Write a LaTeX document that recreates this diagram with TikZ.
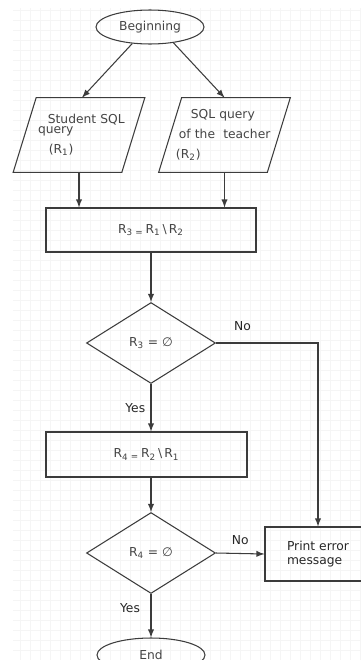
\documentclass[tikz,border=0pt]{standalone}
\usepackage{fontspec}
\setmainfont{DejaVu Sans}
\usetikzlibrary{shapes.geometric}

\definecolor{linegray}{HTML}{3C3C3C}
\definecolor{textgray}{HTML}{444444}

\tikzset{
  flow/.style={draw=linegray, line width=0.6pt},
  terminal/.style={flow, ellipse, minimum width=2.16cm, minimum height=0.68cm, inner sep=0pt, text=textgray},
  io/.style={minimum height=1.48cm, text width=2.16cm, inner sep=0pt, align=left, text=textgray},
  stmt/.style={flow, rectangle, minimum height=0.88cm, inner sep=0pt, text=textgray},
  test/.style={flow, diamond, minimum width=2.58cm, minimum height=1.62cm, inner sep=0pt, text=textgray},
  arr/.style={draw=linegray, line width=0.6pt, -latex},
  lbl/.style={inner sep=0pt, text=black!85},
  gridline/.style={draw=black!4, line width=0.3pt},
}

% slanted outline round an io node
\newcommand\slantbox[1]{%
  \draw[flow] ([xshift=0.23cm]#1.north west) -- ([xshift=0.23cm]#1.north east)
    -- ([xshift=-0.23cm]#1.south east) -- ([xshift=-0.23cm]#1.south west) -- cycle;}

\begin{document}
\begin{tikzpicture}[x=0.02cm, y=-0.02cm, font=\fontsize{7}{8.4}\selectfont]
        %% paper
        \fill[white] (0,0) rectangle (361,660);
        \useasboundingbox (0,0) rectangle (361,660);
        \begin{scope}
          \clip (13,8) rectangle (361,660);
          \draw[gridline] (13,8) grid[step=0.2cm] (361,660);
        \end{scope}
        %% start and inputs
        \node[terminal] (begin) at (150,27) {Beginning};
        \node[io] (q1) at (79,135) {\hspace*{13pt}Student SQL\\[-2.5pt]\hspace*{7.4pt}query\\[3pt]\hspace*{13.6pt}(R\textsubscript{1})};
        \slantbox{q1}
        \node[io] (q2) at (224.5,135) {\hspace*{11.6pt}SQL query\\[3pt]\hspace*{4.8pt}of the\ \ teacher\\[3pt]\hspace*{3.1pt}(R\textsubscript{2})};
        \slantbox{q2}
        %% differences and tests
        \node[stmt, minimum width=4.2cm] (r3) at (151,230) {R\textsubscript{3}\,\textsubscript{=}\,R\textsubscript{1}\,\textbackslash\,R\textsubscript{2}};
        \node[test] (d1) at (151,343) {R\textsubscript{3} = ∅};
        \node[stmt, minimum width=4.02cm, minimum height=0.9cm] (r4) at (146.5,454.5) {R\textsubscript{4}\,\textsubscript{=}\,R\textsubscript{2}\,\textbackslash\,R\textsubscript{1}};
        \node[test] (d2) at (151,553) {R\textsubscript{4} = ∅};
        %% outcomes
        \node[stmt, minimum width=2.12cm, minimum height=1.08cm, align=left, text=black!85] (err) at (318,554) {Print error\\message};
        \node[terminal] (end) at (151,655) {End};
        %% arrows
        \draw[arr] (begin.223) -- ([xshift=0.06cm]q1.north);
        \draw[arr] (begin.-34) -- (q2.north);
        \draw[arr] (q1.south) -- (q1.south |- r3.north);
        \draw[arr] (q2.south) -- (q2.south |- r3.north);
        \draw[arr] (r3) -- (d1);
        \draw[arr] (d1.south) -- (d1.south |- r4.north) node[lbl, pos=0.5, left=3pt] {Yes};
        \draw[arr] (r4.south -| d2.north) -- (d2.north);
        \draw[arr] (d1.east) -| (err.north) node[lbl, pos=0.13, above=6.5pt] {No};
        \draw[arr] (d2.east) -- (err.west) node[lbl, pos=0.5, above=5pt] {No};
        \draw[arr] (d2.south) -- (end.north) node[lbl, pos=0.33, left=6pt] {Yes};
\end{tikzpicture}
\end{document}
